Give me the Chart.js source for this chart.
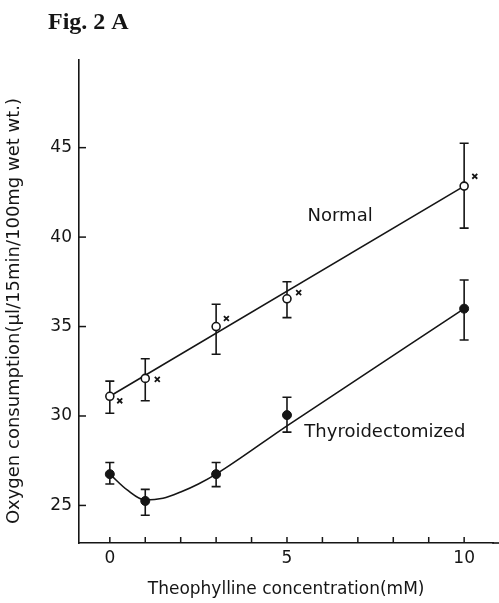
<!DOCTYPE html>
<html>
<head>
<meta charset="utf-8">
<script src="https://cdn.jsdelivr.net/npm/chart.js@4/dist/chart.umd.min.js"></script>
<style>
  html, body { margin: 0; padding: 0; background: #fff; overflow: hidden; }
  #wrap { width: 499px; height: 603px; position: relative; }
</style>
</head>
<body>
<div id="wrap"><canvas id="fig"></canvas></div>
<script>
// theophylline concentration (mM)
const conc = [0, 1, 3, 5, 10];

// Normal rats
const normalMean = [31.1, 32.1, 35.0, 36.55, 42.85];
const normalHi   = [31.95, 33.2, 36.25, 37.5, 45.25];
const normalLo   = [30.15, 30.85, 33.45, 35.5, 40.5];

// Thyroidectomized rats
const thyroMean = [26.75, 25.25, 26.75, 30.05, 36.0];
const thyroHi   = [27.4, 25.9, 27.4, 31.05, 37.6];
const thyroLo   = [26.2, 24.45, 26.05, 29.1, 34.25];

// fitted lines as drawn in the figure
const normalFitX = [0, 10];
const normalFitY = [31.1, 42.85];
const thyroFitX = [0, 0.5, 1, 1.5, 2, 2.5, 3, 5, 10];
const thyroFitY = [26.75, 25.85, 25.3, 25.4, 25.75, 26.2, 26.75, 29.45, 36.0];

// "x" significance marks beside the Normal points
const sigX = [0.28, 1.34, 3.29, 5.33, 10.3];
const sigY = [30.85, 32.05, 35.45, 36.9, 43.4];

const yTicks = [25, 30, 35, 40, 45];
const xTicks = [0, 1, 2, 3, 4, 5, 6, 7, 8, 9, 10];

const ink = '#151515';
const sans = "'DejaVu Sans', sans-serif";

const pts = (xs, ys) => xs.map((x, i) => ({ x: x, y: ys[i] }));

const errorBars = {
    id: 'errorBars',
    beforeDatasetsDraw(chart) {
        const { ctx, scales: { x, y } } = chart;
        ctx.save();
        ctx.strokeStyle = ink;
        ctx.lineWidth = 1.6;
        const draw = (hi, lo) => {
            conc.forEach((c, i) => {
                const px = x.getPixelForValue(c);
                const top = y.getPixelForValue(hi[i]);
                const bot = y.getPixelForValue(lo[i]);
                ctx.beginPath();
                ctx.moveTo(px, top); ctx.lineTo(px, bot);
                ctx.moveTo(px - 4.5, top); ctx.lineTo(px + 4.5, top);
                ctx.moveTo(px - 4.5, bot); ctx.lineTo(px + 4.5, bot);
                ctx.stroke();
            });
        };
        draw(normalHi, normalLo);
        draw(thyroHi, thyroLo);
        ctx.restore();
    }
};

const decorations = {
    id: 'decorations',
    afterDraw(chart) {
        const { ctx, chartArea, scales: { x, y } } = chart;
        ctx.save();
        ctx.strokeStyle = ink;
        ctx.lineWidth = 1.6;
        // x axis runs on to the page edge
        ctx.beginPath();
        ctx.moveTo(chartArea.right - 1, chartArea.bottom);
        ctx.lineTo(chart.width, chartArea.bottom);
        ctx.stroke();
        ctx.lineWidth = 1.5;
        // inward tick marks
        xTicks.forEach(v => {
            const px = x.getPixelForValue(v);
            ctx.beginPath();
            ctx.moveTo(px, chartArea.bottom);
            ctx.lineTo(px, chartArea.bottom - 6);
            ctx.stroke();
        });
        yTicks.forEach(v => {
            const py = y.getPixelForValue(v);
            ctx.beginPath();
            ctx.moveTo(chartArea.left, py);
            ctx.lineTo(chartArea.left + 7, py);
            ctx.stroke();
        });
        ctx.fillStyle = ink;
        ctx.textBaseline = 'middle';
        // y axis title
        ctx.save();
        ctx.translate(14, 311);
        ctx.rotate(-Math.PI / 2);
        ctx.textAlign = 'center';
        ctx.font = '18px ' + sans;
        ctx.fillText('Oxygen consumption(μl/15min/100mg wet wt.)', 0, 0);
        ctx.restore();
        // series labels
        ctx.font = '18px ' + sans;
        ctx.textAlign = 'left';
        ctx.fillText('Normal', x.getPixelForValue(5.58), y.getPixelForValue(41.15));
        ctx.fillText('Thyroidectomized', x.getPixelForValue(5.49), y.getPixelForValue(29.1));
        // figure caption
        ctx.textBaseline = 'alphabetic';
        ctx.font = "bold 24px 'Liberation Serif', serif";
        ctx.fillText('Fig. 2 A', 48, 29);
        ctx.restore();
    }
};

new Chart(document.getElementById('fig'), {
    type: 'scatter',
    data: {
        datasets: [
            {
                label: 'Normal',
                data: pts(conc, normalMean),
                pointRadius: 4,
                pointBorderWidth: 1.6,
                pointBackgroundColor: '#fff',
                pointBorderColor: ink,
                showLine: false
            },
            {
                label: 'Thyroidectomized',
                data: pts(conc, thyroMean),
                pointRadius: 4.5,
                pointBorderWidth: 1,
                pointBackgroundColor: ink,
                pointBorderColor: ink,
                showLine: false
            },
            {
                label: 'sig',
                data: pts(sigX, sigY),
                pointStyle: 'crossRot',
                pointRadius: 3.5,
                pointBorderWidth: 1.8,
                pointBorderColor: ink,
                showLine: false
            },
            {
                label: 'Normal fit',
                data: pts(normalFitX, normalFitY),
                showLine: true,
                pointRadius: 0,
                borderColor: ink,
                borderWidth: 1.6
            },
            {
                label: 'Thyroidectomized fit',
                data: pts(thyroFitX, thyroFitY),
                showLine: true,
                cubicInterpolationMode: 'monotone',
                pointRadius: 0,
                borderColor: ink,
                borderWidth: 1.6
            }
        ]
    },
    options: {
        responsive: true,
        maintainAspectRatio: false,
        animation: false,
        layout: {
            padding: { top: 60, left: 0, right: 0, bottom: 1 }
        },
        plugins: {
            legend: { display: false },
            tooltip: { enabled: false }
        },
        scales: {
            x: {
                type: 'linear',
                min: -0.87,
                max: 10.82,
                afterBuildTicks: (scale) => {
                    scale.ticks = [0, 5, 10].map(v => ({ value: v }));
                },
                afterFit: (scale) => { scale.height = 59; },
                grid: { display: false, drawTicks: false },
                border: { display: true, color: ink, width: 1.6 },
                ticks: {
                    color: ink,
                    padding: 5,
                    maxRotation: 0,
                    font: { family: sans, size: 17 }
                },
                title: {
                    display: true,
                    text: 'Theophylline concentration(mM)',
                    color: ink,
                    font: { family: sans, size: 17 },
                    padding: { top: 6, bottom: 2 }
                }
            },
            y: {
                type: 'linear',
                min: 22.9,
                max: 49.9,
                afterBuildTicks: (scale) => {
                    scale.ticks = yTicks.map(v => ({ value: v }));
                },
                afterFit: (scale) => { scale.width = 79; },
                grid: { display: false, drawTicks: false },
                border: { display: true, color: ink, width: 1.6 },
                ticks: {
                    color: ink,
                    padding: 7,
                    font: { family: sans, size: 17 }
                }
            }
        }
    },
    plugins: [errorBars, decorations]
});
</script>
</body>
</html>
